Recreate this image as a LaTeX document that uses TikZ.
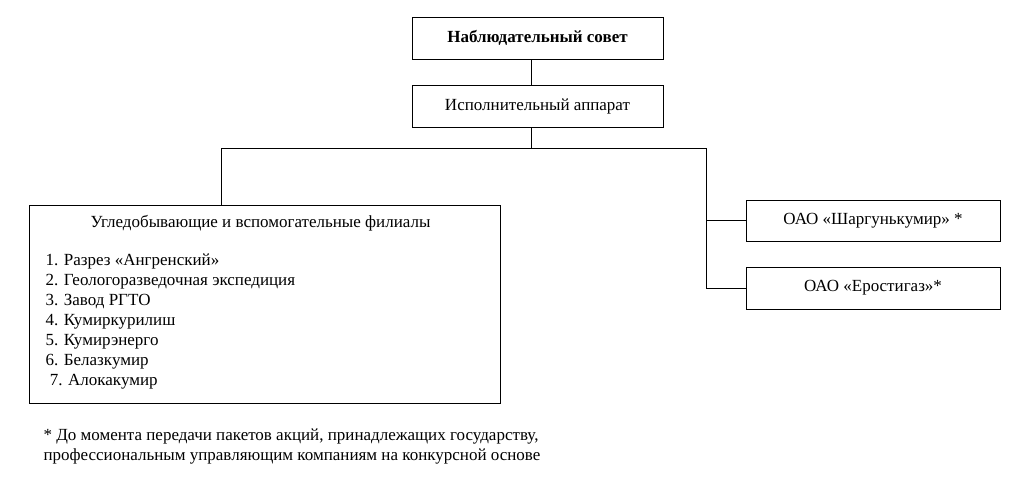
\documentclass[tikz,border=0pt]{standalone}
\usepackage{fontspec}
\setmainfont{Liberation Serif}
\usetikzlibrary{positioning}

\begin{document}
\begin{tikzpicture}[x=1pt,y=-1pt,line width=1pt,
  every node/.style={font=\rmfamily\fontsize{17}{20}\selectfont},
  box/.style={draw,rectangle,inner sep=0pt},
  topbox/.style={box,minimum width=251pt,minimum height=42pt},
  subbox/.style={box,minimum width=254pt,minimum height=41pt}]
\useasboundingbox (0,0) rectangle (1023,499);
%------------- management
\node[topbox,font=\rmfamily\fontsize{17}{20}\selectfont\bfseries] (sovet) at (537.5,38) {Наблюдательный совет};
\node[topbox] (apparat) at (537.5,106) {Исполнительный аппарат};
%------------- branches
\node[box,minimum width=471pt,minimum height=198pt] (filial) at (264.5,304) {};
\node (filtitle) at (260.5,223) {Угледобывающие и вспомогательные филиалы};
\node[anchor=north west,align=left,inner sep=0pt] (fillist) at (45,253.5) {1. Разрез «Ангренский»\\
2. Геологоразведочная экспедиция\\
3. Завод РГТО\\
4. Кумиркурилиш\\
5. Кумирэнерго\\
6. Белазкумир\\
\ 7. Алокакумир};
%------------- joint-stock companies
\node[subbox] (shargun) at (873,220.5) {ОАО «Шаргунькумир» *};
\node[subbox,minimum height=42pt] (erost) at (873,288) {ОАО «Еростигаз»*};
%------------- connectors
\coordinate (busM) at (531,148);
\coordinate (busL) at (221,148);
\coordinate (busR) at (706,148);
\draw (sovet.south -| busM) -- (apparat.north -| busM);
\draw (apparat.south -| busM) -- (busM);
\draw (busL) -- (busR);
\draw (busL) -- (busL |- filial.north);
\draw (busR) |- (erost.west);
\draw (busR |- shargun.west) -- (shargun.west);
%------------- footnote
\node[anchor=north west,align=left,inner sep=0pt] (note) at (43,428) {* До момента передачи пакетов акций, принадлежащих государству,\\
профессиональным управляющим компаниям на конкурсной основе};
\end{tikzpicture}
\end{document}
